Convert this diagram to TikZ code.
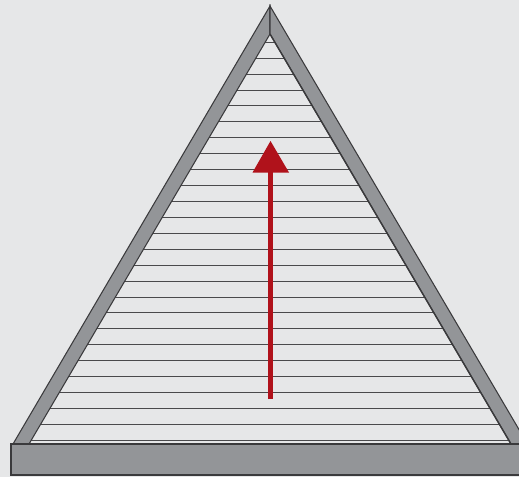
\documentclass[tikz,border=0pt]{standalone}
\usepackage{xcolor}
\usetikzlibrary{arrows.meta,calc}
\definecolor{wallbg}{HTML}{E6E7E8}
\definecolor{raftergray}{HTML}{939598}
\definecolor{edgegray}{HTML}{3A3A3C}
\definecolor{slatgray}{HTML}{4A4A4C}
\definecolor{arrowred}{HTML}{B0121B}
\tikzset{
  edgeline/.style={draw=edgegray,line width=0.6pt,line join=miter},
  slat/.style={draw=slatgray,line width=0.55pt}
}
\begin{document}
\begin{tikzpicture}[x=0.02cm,y=-0.02cm]
  \useasboundingbox (0,0) rectangle (519,477);
  \clip (0,0) rectangle (519,477);
  \fill[wallbg] (0,0) rectangle (519,477);
  \coordinate (apex) at (270,6); \coordinate (inapex) at (270,34);
  \coordinate (outl) at (13,444); \coordinate (outr) at (527.5,444);
  \coordinate (inl) at (29,444); \coordinate (inr) at (511,444);
  % slats
  \foreach \i in {0,...,25}{
    \pgfmathsetmacro{\t}{(3.75+15.92*\i)/410}
    \draw[slat] ($(inl)!\t!(inapex)$) -- ($(inr)!\t!(inapex)$);
  }
  % rafters
  \filldraw[edgeline,fill=raftergray] (outl)--(apex)--(inapex)--(inl)--cycle;
  \filldraw[edgeline,fill=raftergray] (outr)--(apex)--(inapex)--(inr)--cycle;
  \draw[edgeline,line width=0.8pt] (inapex)--(inr);
  % base
  \filldraw[edgeline,fill=raftergray] (11,444) rectangle (530,475);
  % arrow
  \coordinate (tail) at (270.5,399); \coordinate (neck) at (270.5,172);
  \draw[arrowred,line width=2.3pt] (tail)--(neck);
  \fill[arrowred] (270.5,141)--(289,172.5)--(252.5,172.5)--cycle;
\end{tikzpicture}
\end{document}
